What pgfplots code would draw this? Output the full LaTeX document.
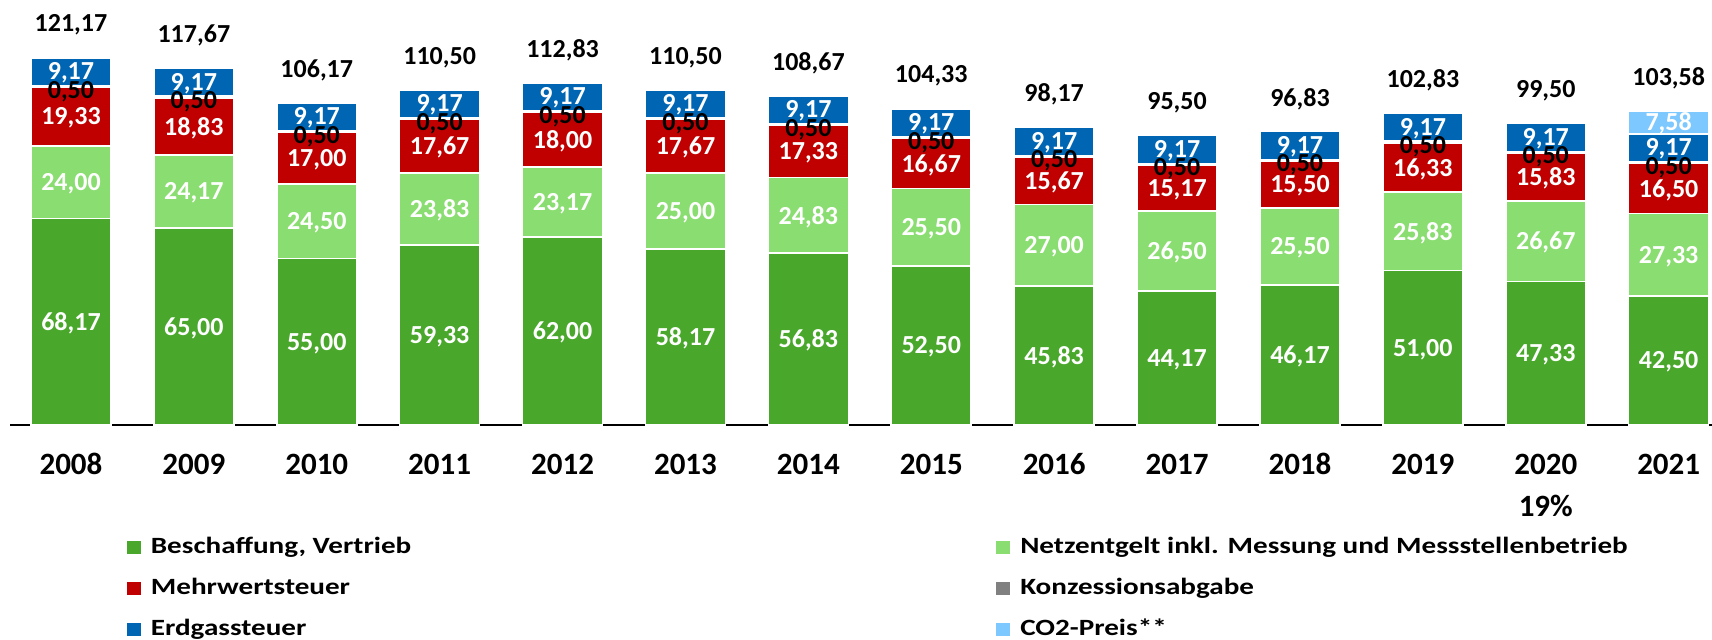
\documentclass[border=0pt]{standalone}
\usepackage{pgfplots}
\usepackage{pgfplotstable}
\pgfplotsset{compat=1.18}
\usepackage{fontspec}
\setmainfont{Carlito}
\newfontfamily\legfont[FakeStretch=1.25]{Carlito}
\definecolor{cB}{HTML}{49A82B}
\definecolor{cN}{HTML}{8ADD70}
\definecolor{cM}{HTML}{C00000}
\definecolor{cK}{HTML}{808080}
\definecolor{cE}{HTML}{0066B3}
\definecolor{cC}{HTML}{7DC8FF}
\pgfplotstableread{
x  B     Bl     N     Nl     M     Ml     K    Kl    E    El    C    Cl   T      Tl
0  68.17 68,17  24.00 24,00  19.33 19,33  0.50 0,50  9.17 9,17 0    {}   121.17 121,17
1  65.00 65,00  24.17 24,17  18.83 18,83  0.50 0,50  9.17 9,17 0    {}   117.67 117,67
2  55.00 55,00  24.50 24,50  17.00 17,00  0.50 0,50  9.17 9,17 0    {}   106.17 106,17
3  59.33 59,33  23.83 23,83  17.67 17,67  0.50 0,50  9.17 9,17 0    {}   110.50 110,50
4  62.00 62,00  23.17 23,17  18.00 18,00  0.50 0,50  9.17 9,17 0    {}   112.83 112,83
5  58.17 58,17  25.00 25,00  17.67 17,67  0.50 0,50  9.17 9,17 0    {}   110.50 110,50
6  56.83 56,83  24.83 24,83  17.33 17,33  0.50 0,50  9.17 9,17 0    {}   108.67 108,67
7  52.50 52,50  25.50 25,50  16.67 16,67  0.50 0,50  9.17 9,17 0    {}   104.33 104,33
8  45.83 45,83  27.00 27,00  15.67 15,67  0.50 0,50  9.17 9,17 0    {}   98.17  98,17
9  44.17 44,17  26.50 26,50  15.17 15,17  0.50 0,50  9.17 9,17 0    {}   95.50  95,50
10 46.17 46,17  25.50 25,50  15.50 15,50  0.50 0,50  9.17 9,17 0    {}   96.83  96,83
11 51.00 51,00  25.83 25,83  16.33 16,33  0.50 0,50  9.17 9,17 0    {}   102.83 102,83
12 47.33 47,33  26.67 26,67  15.83 15,83  0.50 0,50  9.17 9,17 0    {}   99.50  99,50
13 42.50 42,50  27.33 27,33  16.50 16,50  0.50 0,50  9.17 9,17 7.58 7,58 103.58 103,58
}\data
\pgfplotsset{
  base/.style={at={(5pt,107pt)}, anchor=south west,
    x=61.45pt, y=1.515pt, xmin=-0.496, xmax=13.35, ymin=0, ymax=140,
    enlargelimits=false, clip=false},
  overlay/.style={base, hide axis, ybar stacked, bar width=40pt},
  bar/.style={fill=#1, draw=white, line width=0.8pt},
  ghost/.style={draw=none, fill=none},
  lab/.style 2 args={draw=none, fill=none, nodes near coords, point meta=explicit symbolic,
    every node near coord/.style={anchor=center, yshift=#2, text=#1,
      font=\fontsize{13}{15}\selectfont\bfseries, inner sep=0pt}},
}
\begin{document}
\begin{tikzpicture}
\useasboundingbox (0,0) rectangle (856pt,319.5pt);
% bars
\begin{axis}[base,
  ybar stacked, bar width=40pt,
  axis x line*=bottom, hide y axis,
  x axis line style={line width=1.25pt, -},
  xtick={0,...,13},
  xticklabels={2008,2009,2010,2011,2012,2013,2014,2015,2016,2017,2018,2019,2020,2021},
  xtick style={draw=none},
  every x tick label/.append style={anchor=base, yshift=-24.7pt, font=\fontsize{15.5}{18}\selectfont\bfseries},
  legend columns=2,
  legend image code/.code={\fill[#1, draw=none] (0pt,-3.25pt) rectangle (7pt,3.25pt);},
  legend style={at={(0.0687,-0.2606)}, anchor=north west, draw=none, fill=none,
    inner sep=0pt, outer sep=0pt, row sep=9pt,
    nodes={inner sep=0pt, text height=9pt, text depth=2.5pt, font=\fontsize{11.65}{14}\legfont\bfseries},
    /tikz/every odd column/.append style={column sep=5pt},
    /tikz/every even column/.append style={column sep=292.5pt}},
  legend cell align=left,
]
\addplot[bar=cB] table[x=x, y=B] {\data};
\addlegendentry{Beschaffung, Vertrieb}
\addplot[bar=cN] table[x=x, y=N] {\data};
\addlegendentry{Netzentgelt inkl. Messung und Messstellenbetrieb}
\addplot[bar=cM] table[x=x, y=M] {\data};
\addlegendentry{Mehrwertsteuer}
\addplot[bar=cK] table[x=x, y=K] {\data};
\addlegendentry{Konzessionsabgabe}
\addplot[bar=cE] table[x=x, y=E] {\data};
\addlegendentry{Erdgassteuer}
\addplot[bar=cC] table[x=x, y=C] {\data};
\addlegendentry{CO2-Preis**}
\node[anchor=base, yshift=-45.7pt, font=\fontsize{15.5}{18}\selectfont\bfseries] at (axis cs:12,0) {19\%};
\end{axis}
% segment labels (white)
\begin{axis}[overlay]
\addplot[lab={white}{-0.8pt}] table[x=x, y=B, meta=Bl] {\data};
\addplot[lab={white}{-0.8pt}] table[x=x, y=N, meta=Nl] {\data};
\addplot[lab={white}{-0.8pt}] table[x=x, y=M, meta=Ml] {\data};
\addplot[ghost] table[x=x, y=K] {\data};
\addplot[lab={white}{-0.5pt}] table[x=x, y=E, meta=El] {\data};
\addplot[lab={white}{-0.5pt}] table[x=x, y=C, meta=Cl] {\data};
\end{axis}
% 0,50 labels on top
\begin{axis}[overlay]
\addplot[ghost] table[x=x, y=B] {\data};
\addplot[ghost] table[x=x, y=N] {\data};
\addplot[ghost] table[x=x, y=M] {\data};
\addplot[lab={black}{-2.5pt}] table[x=x, y=K, meta=Kl] {\data};
\end{axis}
% totals
\begin{axis}[base, hide axis]
\addplot[draw=none, mark=none, nodes near coords, point meta=explicit symbolic,
  every node near coord/.style={anchor=center, yshift=16.4pt, text=black,
    font=\fontsize{13}{15}\selectfont\bfseries, inner sep=0pt}] table[x=x, y=T, meta=Tl] {\data};
\end{axis}
\end{tikzpicture}
\end{document}
